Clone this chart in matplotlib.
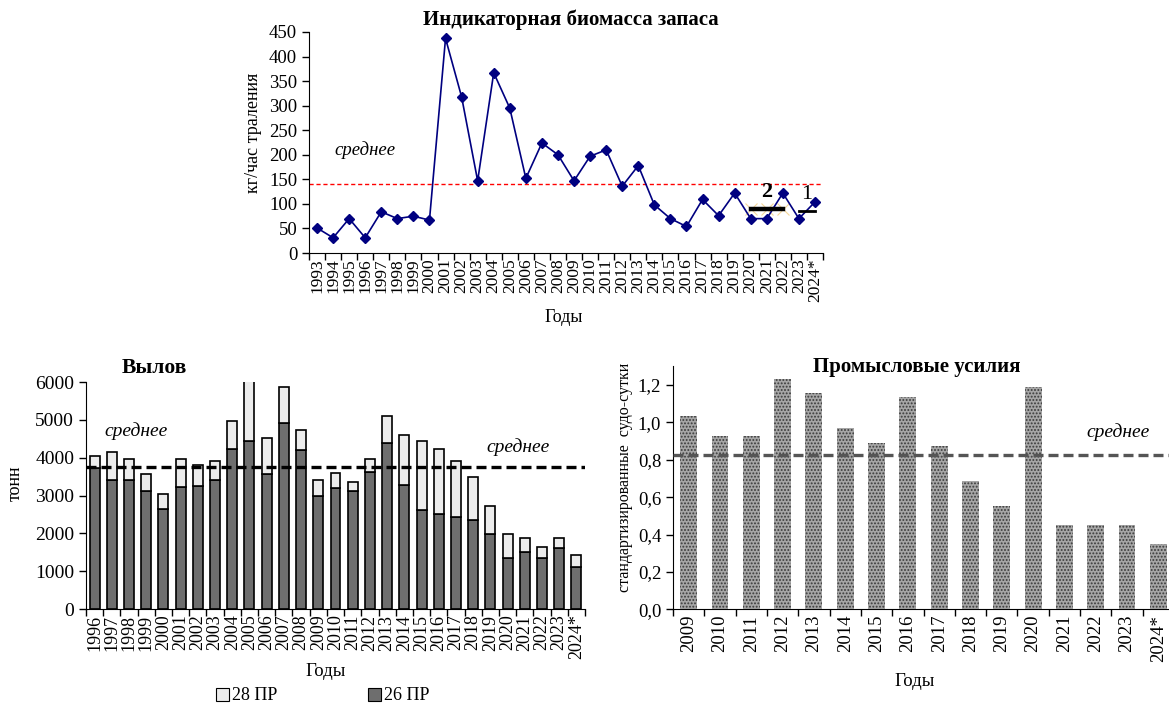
import matplotlib
matplotlib.use("Agg")
import matplotlib.pyplot as plt
import numpy as np
from matplotlib.patches import Patch
from matplotlib.ticker import FuncFormatter

plt.rcParams['font.family'] = ['Liberation Serif', 'DejaVu Serif']
plt.rcParams['hatch.linewidth'] = 0.9

# ---- данные: индикаторная биомасса ----
bio_years = [str(y) for y in range(1993, 2024)] + ['2024*']
bio_vals = [51, 31, 70, 31, 84, 70, 75, 67, 437, 318, 147, 367, 295, 152, 224, 200,
            147, 197, 210, 136, 178, 98, 70, 54, 109, 76, 122, 70, 70, 122, 70, 104]
bio_mean = 140
ref2_years = ['2020', '2021', '2022']
ref2_val = 90
ref1_years = ['2023', '2024*']
ref1_val = 85

# ---- данные: вылов ----
catch_years = [str(y) for y in range(1996, 2024)] + ['2024*']
catch_26 = [3740, 3410, 3410, 3120, 2650, 3230, 3260, 3410, 4240, 4450, 3580, 4910, 4200,
            2980, 3190, 3120, 3620, 4380, 3270, 2610, 2500, 2430, 2360, 1970, 1350, 1500,
            1350, 1610, 1110]
catch_28 = [300, 750, 550, 460, 390, 730, 540, 500, 720, 1850, 930, 970, 530,
            430, 400, 240, 340, 710, 1320, 1840, 1730, 1480, 1120, 750, 620, 380,
            290, 270, 320]
catch_mean = 3750

# ---- данные: промысловые усилия ----
eff_years = [str(y) for y in range(2009, 2024)] + ['2024*']
eff_vals = [1.034, 0.927, 0.927, 1.230, 1.159, 0.970, 0.890, 1.136, 0.876, 0.688,
            0.553, 1.188, 0.451, 0.451, 0.451, 0.348]
eff_mean = 0.824

W, H = 1169, 704
fig = plt.figure(figsize=(W / 100, H / 100), dpi=100)


def px(x, y):
    return x / W, 1 - y / H


def cat_axis(ax, labels, fs):
    n = len(labels)
    ax.set_xticks(range(n))
    ax.set_xticklabels(labels, rotation=90, fontsize=fs)
    ax.set_xticks(np.arange(-0.5, n), minor=True)
    ax.tick_params(axis='x', which='major', length=0, pad=4)
    ax.tick_params(axis='x', which='minor', length=5, direction='out', width=1)
    ax.set_xlim(-0.5, n - 0.5)
    ax.spines['top'].set_visible(False)
    ax.spines['right'].set_visible(False)
    ax.tick_params(axis='y', length=5, direction='out', width=1)


# ================= верхний график =================
ax1 = fig.add_axes([309 / W, 1 - 253 / H, 514 / W, 221 / H])
x1 = np.arange(len(bio_years))
ax1.plot(x1, bio_vals, color='#000080', lw=1.2, marker='D', markersize=5.5, zorder=3)
ax1.axhline(bio_mean, color='red', lw=1, dashes=(3, 2))
i2 = [bio_years.index(y) for y in ref2_years]
ax1.plot(i2, [ref2_val] * len(i2), color='black', lw=3.2, zorder=4)
ax1.plot(i2, [ref2_val] * len(i2), ls='none', marker='x', color='#f5d79a', ms=9, mew=0.8, zorder=2)
i1 = [bio_years.index(y) for y in ref1_years]
ax1.plot(i1, [ref1_val] * len(i1), color='black', lw=2, zorder=4)
ax1.text(i2[1], 103, '2', fontsize=16, fontweight='bold', ha='center', va='bottom')
ax1.text(30.5, 100, '1', fontsize=16, ha='center', va='bottom')
ax1.text(3.0, 210, 'среднее', fontsize=13.5, style='italic', ha='center', va='center')
ax1.set_ylim(0, 450)
ax1.set_yticks(range(0, 451, 50))
ax1.tick_params(axis='y', labelsize=13.5)
cat_axis(ax1, bio_years, 12.5)
fig.text(*px(571, 20), 'Индикаторная биомасса запаса', fontsize=15, fontweight='bold',
         ha='center', va='center')
fig.text(*px(254, 133), 'кг/час траления', fontsize=13, rotation=90, ha='center', va='center')
fig.text(*px(564, 318), 'Годы', fontsize=13, ha='center', va='center')

# ================= вылов =================
ax2 = fig.add_axes([86 / W, 1 - 609 / H, 499 / W, 227 / H])
x2 = np.arange(len(catch_years))
ax2.bar(x2, catch_26, width=0.58, color='#6e6e6e', edgecolor='black', lw=1.2, zorder=2)
ax2.bar(x2, catch_28, width=0.58, bottom=catch_26, color='#ececec', edgecolor='black',
        lw=1.2, zorder=2)
ax2.axhline(catch_mean, color='black', lw=2.4, dashes=(3, 1.5), zorder=3)
ax2.text(2.4, 4690, 'среднее', fontsize=14, style='italic', ha='center', va='center')
ax2.text(24.6, 4290, 'среднее', fontsize=14, style='italic', ha='center', va='center')
ax2.set_ylim(0, 6000)
ax2.set_yticks(range(0, 6001, 1000))
ax2.tick_params(axis='y', labelsize=14)
cat_axis(ax2, catch_years, 13)
fig.text(*px(154, 368), 'Вылов', fontsize=15.5, fontweight='bold', ha='center', va='center')
fig.text(*px(15, 483), 'тонн', fontsize=13, rotation=90, ha='center', va='center')
fig.text(*px(326, 672), 'Годы', fontsize=13.5, ha='center', va='center')
handles = [Patch(facecolor='#ececec', edgecolor='black', lw=0.8),
           Patch(facecolor='#6e6e6e', edgecolor='black', lw=0.8)]
fig.legend(handles, ['28 ПР', '26 ПР'], loc='center', bbox_to_anchor=px(323, 696),
           ncol=2, frameon=False, fontsize=13, handlelength=0.7, handleheight=0.7,
           handletextpad=0.2, columnspacing=5.0, borderpad=0)

# ================= промысловые усилия =================
ax3 = fig.add_axes([673 / W, 1 - 609.3 / H, 501 / W, 243 / H])
x3 = np.arange(len(eff_years))
ax3.bar(x3, eff_vals, width=0.54, color='#a6a6a6', edgecolor='#3a3a3a', lw=0,
        hatch='.....', zorder=2)
ax3.axhline(eff_mean, color='#555555', lw=2.4, dashes=(3, 1.5), zorder=3)
ax3.text(13.7, 0.95, 'среднее', fontsize=14, style='italic', ha='center', va='center')
ax3.set_ylim(0, 1.3)
ax3.set_yticks(np.arange(0, 1.21, 0.2))
ax3.yaxis.set_major_formatter(FuncFormatter(lambda v, p: f'{v:.1f}'.replace('.', ',')))
ax3.tick_params(axis='y', labelsize=13.5)
cat_axis(ax3, eff_years, 13.5)
fig.text(*px(917, 367), 'Промысловые усилия', fontsize=15, fontweight='bold',
         ha='center', va='center')
fig.text(*px(625, 477), 'стандартизированные  судо-сутки', fontsize=11.5, rotation=90,
         ha='center', va='center')
fig.text(*px(915, 682), 'Годы', fontsize=13.5, ha='center', va='center')

fig.savefig('out.png', dpi=100)
